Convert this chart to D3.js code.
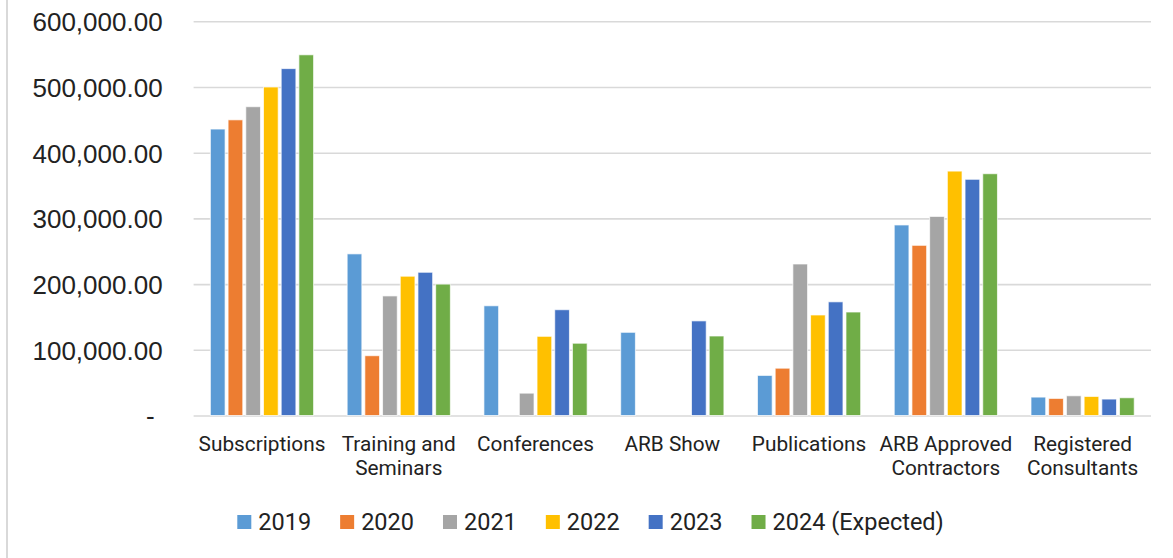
<!DOCTYPE html>
<html>

<head>
    <meta http-equiv="Content-Type" content="text/html; charset=UTF-8">
    <style>
        body { margin: 0; background: #fff; }
        svg { display: block; font-family: Roboto, "Noto Sans", sans-serif; }
    </style>
</head>

<body>
    <svg width="1173" height="558"></svg>
    <script src="https://cdn.jsdelivr.net/npm/d3@7"></script>

    <script>

        let width = 1173, height = 558;

        // categories on the x axis (with line breaks as in the picture)
        let categories = ["Subscriptions", "Training and Seminars", "Conferences", "ARB Show",
            "Publications", "ARB Approved Contractors", "Registered Consultants"];
        let categoryLines = [["Subscriptions"], ["Training and", "Seminars"], ["Conferences"], ["ARB Show"],
            ["Publications"], ["ARB Approved", "Contractors"], ["Registered", "Consultants"]];

        let years = ["2019", "2020", "2021", "2022", "2023", "2024 (Expected)"];
        let colors = ["#5B9BD5", "#ED7D31", "#A5A5A5", "#FFC000", "#4472C4", "#70AD47"];

        // values
        let values2019 = [436000, 246000, 167000, 126600, 61000, 290000, 28000];
        let values2020 = [450000, 91000, 0, 0, 72000, 259000, 26000];
        let values2021 = [470000, 182000, 34000, 0, 230600, 303000, 30000];
        let values2022 = [500000, 212000, 120500, 0, 153000, 372000, 29000];
        let values2023 = [528000, 218000, 161000, 144000, 173000, 359500, 25000];
        let values2024 = [549000, 200000, 110000, 121000, 157500, 368000, 27000];

        let yTicks = [0, 100000, 200000, 300000, 400000, 500000, 600000];

        let series = [values2019, values2020, values2021, values2022, values2023, values2024];

        let svg = d3.select("svg");

        // left border of the chart area
        svg.append("line")
            .attr("x1", 7).attr("x2", 7)
            .attr("y1", 0).attr("y2", height)
            .attr("stroke", "#d9d9d9")
            .attr("stroke-width", 2);

        let x = d3.scaleBand()
            .domain(categories)
            .range([193.6, 1151])
            .paddingInner(0.2234)
            .paddingOuter(0.1117);

        let x1 = d3.scaleBand()
            .domain(years)
            .range([0, x.bandwidth()])
            .paddingInner(0.17)
            .paddingOuter(0.085);

        let y = d3.scaleLinear()
            .domain([0, 600000])
            .range([415.5, 21.3]);

        let fmt = d3.format(",.2f");

        // gridlines + y labels
        let yAxis = d3.axisLeft(y)
            .tickValues(yTicks)
            .tickSize(-(1151 - 193.6))
            .tickPadding(31)
            .tickFormat(d => d === 0 ? "-" : fmt(d));

        let gy = svg.append("g")
            .attr("transform", "translate(193.6,0)")
            .call(yAxis);
        gy.select(".domain").remove();
        gy.selectAll(".tick line")
            .attr("stroke", "#d9d9d9")
            .attr("stroke-width", 1.6);
        gy.selectAll(".tick text")
            .attr("fill", "#222")
            .style("font-size", "26px")
            .attr("dy", "0.36em")
            .attr("dx", d => d === 0 ? -8 : 0);

        // bars
        let groups = svg.append("g")
            .selectAll("g")
            .data(categories)
            .enter()
            .append("g")
            .attr("transform", d => "translate(" + x(d) + ",0)");

        groups.selectAll("rect")
            .data((c, i) => years.map((yr, j) => ({ year: yr, value: series[j][i], color: colors[j] })).filter(d => d.value > 0))
            .enter()
            .append("rect")
            .attr("x", d => x1(d.year))
            .attr("width", x1.bandwidth())
            .attr("y", d => y(d.value))
            .attr("height", d => y(0) - y(d.value))
            .attr("fill", d => d.color)
            .attr("stroke", "rgba(255,255,255,0.7)")
            .attr("stroke-width", 1);

        // category labels
        let catLabels = svg.append("g")
            .selectAll("text")
            .data(categories)
            .enter()
            .append("text")
            .attr("text-anchor", "middle")
            .attr("fill", "#222")
            .style("font-size", "20.8px")
            .attr("x", d => x(d) + x.bandwidth() / 2)
            .attr("y", 451);

        catLabels.selectAll("tspan")
            .data((d, i) => categoryLines[i])
            .enter()
            .append("tspan")
            .attr("x", function () { return d3.select(this.parentNode).attr("x"); })
            .attr("dy", (d, i) => i === 0 ? 0 : 24)
            .text(d => d);

        // legend
        let legend = svg.append("g").attr("transform", "translate(237.3,522)");
        let lx = 0;
        years.forEach((yr, i) => {
            let item = legend.append("g").attr("transform", "translate(" + lx + ",0)");
            item.append("rect")
                .attr("x", 0).attr("y", -7)
                .attr("width", 14).attr("height", 14)
                .attr("fill", colors[i]);
            let t = item.append("text")
                .attr("x", 21)
                .attr("dy", "0.36em")
                .attr("fill", "#222")
                .style("font-size", "23.5px")
                .text(yr);
            lx += 21 + t.node().getComputedTextLength() + 29;
        });

    </script>

</body>

</html>
